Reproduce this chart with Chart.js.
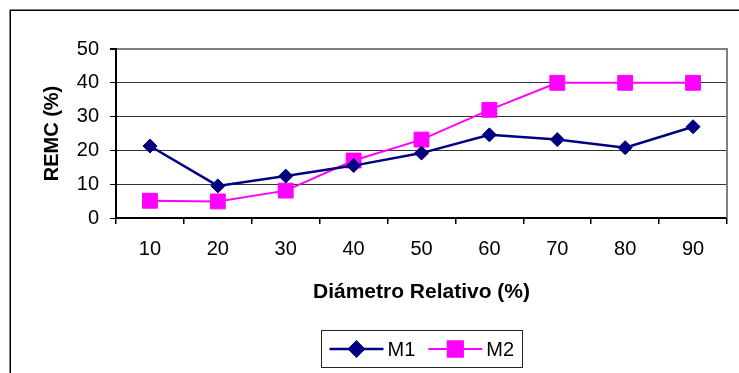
<!DOCTYPE html>
<html>
<head>
<meta charset="utf-8">
<script src="https://cdn.jsdelivr.net/npm/chart.js@4"></script>
<style>
  html, body { margin: 0; padding: 0; background: #fff; }
  #wrap { width: 739px; height: 373px; }
</style>
</head>
<body>
<div id="wrap"><canvas id="remcChart" width="739" height="373"></canvas></div>
<script>
const diametros = ["10", "20", "30", "40", "50", "60", "70", "80", "90"];
const m1 = [21.3, 9.5, 12.4, 15.5, 19.2, 24.6, 23.2, 20.8, 27.0];
const m2 = [5.1, 4.9, 8.1, 17.0, 23.2, 32.0, 40.0, 40.0, 40.0];
const remcTicks = [0, 10, 20, 30, 40, 50];

const FONT = "'Liberation Sans', Arial, sans-serif";

// outer frame, grey top/right edges of the plot, and the boxed legend
const decoraciones = {
  id: 'decoraciones',
  beforeDraw(chart) {
    const ctx = chart.ctx;
    ctx.save();
    ctx.fillStyle = '#fff';
    ctx.fillRect(0, 0, chart.width, chart.height);
    ctx.strokeStyle = '#000';
    ctx.lineWidth = 1.5;
    ctx.strokeRect(10.25, 10.25, chart.width + 20, chart.height + 20);
    ctx.restore();
  },
  beforeDatasetsDraw(chart) {
    const {ctx, chartArea} = chart;
    ctx.save();
    ctx.strokeStyle = '#808080';
    ctx.lineWidth = 2;
    ctx.beginPath();
    ctx.moveTo(chartArea.right, chartArea.top - 1);
    ctx.lineTo(chartArea.right, chartArea.bottom);
    ctx.stroke();
    ctx.restore();
  },
  afterDraw(chart) {
    const {ctx, chartArea} = chart;
    const xs = chart.scales.x;
    ctx.save();
    ctx.font = '20px ' + FONT;
    const lineLen = 54, pad = 8, gapTxt = 4, gapItem = 13;
    const items = chart.data.datasets.map(ds => ({ds, w: ctx.measureText(ds.label).width}));
    let total = pad * 2;
    items.forEach((it, i) => { total += lineLen + gapTxt + it.w + (i ? gapItem : 0); });
    const cx = (chartArea.left + chartArea.right) / 2;
    const top = xs.bottom + 25, h = 37;
    let x = Math.round(cx - total / 2) + 0.5;
    ctx.strokeStyle = '#222';
    ctx.lineWidth = 1;
    ctx.strokeRect(x, top + 0.5, Math.round(total), h);
    const cy = top + h / 2 + 0.5;
    x += pad;
    items.forEach((it, i) => {
      if (i) x += gapItem;
      const ds = it.ds;
      ctx.strokeStyle = ds.borderColor;
      ctx.lineWidth = ds.borderWidth;
      ctx.beginPath();
      ctx.moveTo(x, cy);
      ctx.lineTo(x + lineLen, cy);
      ctx.stroke();
      Chart.helpers.drawPoint(ctx, {
        pointStyle: ds.pointStyle,
        radius: ds.pointRadius,
        borderWidth: 1,
        rotation: 0
      }, x + lineLen / 2, cy);
      ctx.fillStyle = ds.pointBackgroundColor;
      ctx.strokeStyle = ds.pointBorderColor;
      ctx.beginPath();
      Chart.helpers.drawPoint(ctx, {
        pointStyle: ds.pointStyle,
        radius: ds.pointRadius,
        borderWidth: 1,
        rotation: 0
      }, x + lineLen / 2, cy);
      x += lineLen + gapTxt;
      ctx.fillStyle = '#000';
      ctx.textAlign = 'left';
      ctx.textBaseline = 'middle';
      ctx.fillText(ds.label, x, cy + 1);
      x += it.w;
    });
    ctx.restore();
  }
};

new Chart(document.getElementById("remcChart"), {
  type: 'line',
  data: {
    labels: diametros,
    datasets: [
      {
        label: "M1",
        data: m1,
        borderColor: "#000080",
        backgroundColor: "#000080",
        borderWidth: 2.5,
        pointStyle: 'rectRot',
        pointRadius: 7,
        pointBorderWidth: 1,
        pointBackgroundColor: "#000080",
        pointBorderColor: "#000080",
        tension: 0
      },
      {
        label: "M2",
        data: m2,
        borderColor: "#FF00FF",
        backgroundColor: "#FF00FF",
        borderWidth: 2,
        pointStyle: 'rect',
        pointRadius: 10.5,
        pointBorderWidth: 1,
        pointBackgroundColor: "#FF00FF",
        pointBorderColor: "#FF00FF",
        tension: 0
      }
    ]
  },
  options: {
    responsive: false,
    animation: false,
    events: [],
    layout: { padding: { left: 40, top: 49, right: 12, bottom: 68 } },
    plugins: {
      legend: { display: false },
      title: { display: false },
      tooltip: { enabled: false }
    },
    scales: {
      x: {
        offset: true,
        afterFit(scale) { scale.height = 87; },
        grid: {
          offset: true,
          drawOnChartArea: false,
          drawTicks: true,
          tickLength: 6,
          color: '#000',
          lineWidth: 1.5
        },
        border: { display: true, color: '#000', width: 2 },
        ticks: {
          color: '#000',
          padding: 13,
          maxRotation: 0,
          font: { family: FONT, size: 20 }
        },
        title: {
          display: true,
          text: 'Diámetro Relativo (%)',
          color: '#000',
          padding: 0,
          font: { family: FONT, size: 21, weight: 'bold' }
        }
      },
      y: {
        min: remcTicks[0],
        max: remcTicks[remcTicks.length - 1],
        afterFit(scale) { scale.width = 76; },
        afterBuildTicks(scale) { scale.ticks = remcTicks.map(v => ({value: v})); },
        grid: {
          color: c => c.tick && c.tick.value === 50 ? '#808080' : '#333',
          lineWidth: c => c.tick && c.tick.value === 50 ? 2 : 1,
          tickColor: '#000',
          tickLength: 6,
          drawTicks: true
        },
        border: { display: true, color: '#000', width: 2 },
        ticks: {
          color: '#000',
          padding: 11,
          font: { family: FONT, size: 20 }
        },
        title: {
          display: true,
          text: 'REMC (%)',
          color: '#000',
          padding: 0,
          font: { family: FONT, size: 20, weight: 'bold' }
        }
      }
    }
  },
  plugins: [decoraciones]
});
</script>
</body>
</html>
